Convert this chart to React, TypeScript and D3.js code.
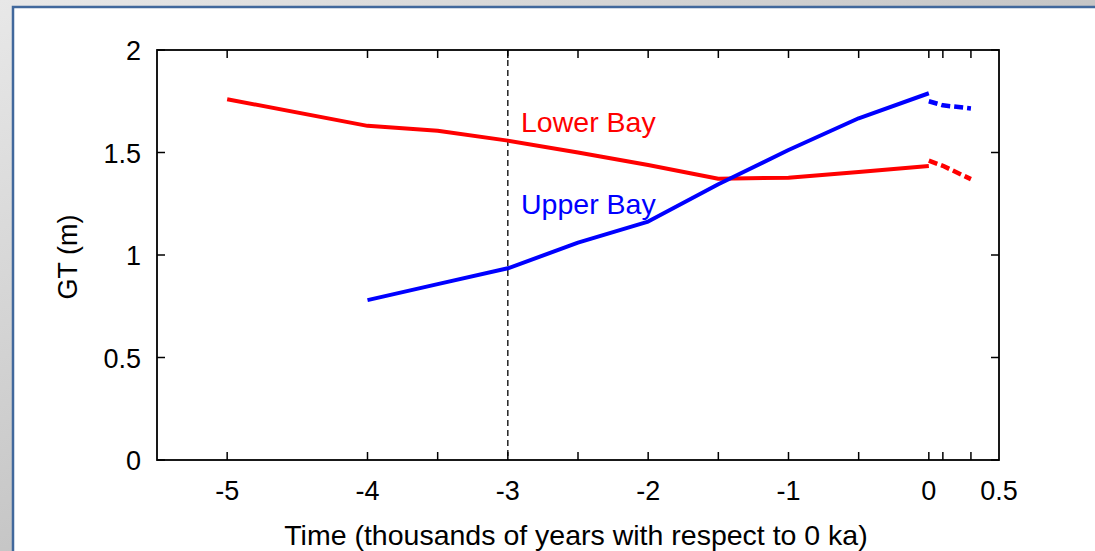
import * as d3 from 'd3';
import { useEffect, useRef } from 'react';

// thousands of years relative to 0 ka
const lowerX = [-5, -4, -3.5, -3, -2.5, -2, -1.5, -1, -0.5, 0];
const lowerGT = [1.76, 1.63, 1.606, 1.558, 1.5, 1.439, 1.372, 1.377, 1.405, 1.434];
const lowerFutX = [0, 0.1, 0.3];
const lowerFutGT = [1.46, 1.435, 1.37];

const upperX = [-4, -3.5, -3, -2.5, -2, -1.5, -1, -0.5, 0];
const upperGT = [0.78, 0.858, 0.935, 1.06, 1.163, 1.345, 1.512, 1.667, 1.789];
const upperFutX = [0, 0.1, 0.3];
const upperFutGT = [1.75, 1.73, 1.715];

const xTicks = [-5, -4, -3.5, -3, -2.5, -2, -1.5, -1, -0.5, 0, 0.1, 0.3];
const xLabels = [-5, -4, -3, -2, -1, 0, 0.5];
const yTicks = [0, 0.5, 1, 1.5, 2];
const markerYear = -3;

function App() {
  const ref = useRef<SVGSVGElement>(null);

  useEffect(() => {
    const W = 1095, H = 551;
    const left = 157, right = 999, top = 50, bottom = 460;
    const font = '"Liberation Sans", Arial, sans-serif';

    const svg = d3.select(ref.current);
    svg.selectAll('*').remove();

    // slide-style frame
    const defs = svg.append('defs');
    const grad = defs.append('linearGradient')
        .attr('id', 'bg')
        .attr('x1', 0).attr('y1', 0).attr('x2', 1).attr('y2', 1);
    grad.append('stop').attr('offset', 0).attr('stop-color', '#e8e8e8');
    grad.append('stop').attr('offset', 1).attr('stop-color', '#a4a4a4');

    svg.append('rect').attr('width', W).attr('height', H).attr('fill', 'url(#bg)');
    svg.append('rect')
        .attr('x', 13).attr('y', 7)
        .attr('width', W + 20).attr('height', H + 20)
        .attr('fill', '#fff')
        .attr('stroke', '#41689c')
        .attr('stroke-width', 2.5);

    const x = d3.scaleLinear().domain([-5.5, 0.5]).range([left, right]);
    const y = d3.scaleLinear().domain([0, 2]).range([bottom, top]);

    const g = svg.append('g');

    // ticks on all four sides, pointing inward
    const tickLen = 8;
    xTicks.forEach(t => {
      g.append('line')
          .attr('x1', x(t)).attr('x2', x(t))
          .attr('y1', bottom).attr('y2', bottom - tickLen)
          .attr('stroke', '#000').attr('stroke-width', 1.5);
      g.append('line')
          .attr('x1', x(t)).attr('x2', x(t))
          .attr('y1', top).attr('y2', top + tickLen)
          .attr('stroke', '#000').attr('stroke-width', 1.5);
    });
    yTicks.forEach(t => {
      g.append('line')
          .attr('x1', left).attr('x2', left + tickLen)
          .attr('y1', y(t)).attr('y2', y(t))
          .attr('stroke', '#000').attr('stroke-width', 1.5);
      g.append('line')
          .attr('x1', right).attr('x2', right - tickLen)
          .attr('y1', y(t)).attr('y2', y(t))
          .attr('stroke', '#000').attr('stroke-width', 1.5);
    });

    g.selectAll('.xl')
        .data(xLabels)
        .join('text')
        .attr('x', d => x(d))
        .attr('y', 500)
        .attr('text-anchor', 'middle')
        .style('font-family', font)
        .style('font-size', '27px')
        .text(d => String(d));

    g.selectAll('.yl')
        .data(yTicks)
        .join('text')
        .attr('x', 141)
        .attr('y', d => y(d) + 10)
        .attr('text-anchor', 'end')
        .style('font-family', font)
        .style('font-size', '27px')
        .text(d => String(d));

    // vertical marker
    g.append('line')
        .attr('x1', x(markerYear)).attr('x2', x(markerYear))
        .attr('y1', top).attr('y2', bottom)
        .attr('stroke', '#000')
        .attr('stroke-width', 1.3)
        .attr('stroke-dasharray', '6,4');

    const line = d3.line<[number, number]>()
        .x(d => x(d[0]))
        .y(d => y(d[1]));

    const draw = (xs: number[], ys: number[], color: string, dashed: boolean) => {
      g.append('path')
          .attr('d', line(xs.map((v, i) => [v, ys[i]] as [number, number])))
          .attr('fill', 'none')
          .attr('stroke', color)
          .attr('stroke-width', dashed ? 4.5 : 4)
          .attr('stroke-linejoin', 'round')
          .attr('stroke-dasharray', dashed ? '9,4' : null);
    };

    draw(lowerX, lowerGT, '#ff0000', false);
    draw(lowerFutX, lowerFutGT, '#ff0000', true);
    draw(upperX, upperGT, '#0000ff', false);
    draw(upperFutX, upperFutGT, '#0000ff', true);

    g.append('text')
        .attr('x', 521).attr('y', 132)
        .attr('fill', '#ff0000')
        .style('font-family', font)
        .style('font-size', '28.5px')
        .text('Lower Bay');
    g.append('text')
        .attr('x', 521).attr('y', 214)
        .attr('fill', '#0000ff')
        .style('font-family', font)
        .style('font-size', '28.5px')
        .text('Upper Bay');

    // border of the plot box
    g.append('rect')
        .attr('x', left).attr('y', top)
        .attr('width', right - left).attr('height', bottom - top)
        .attr('fill', 'none')
        .attr('stroke', '#000')
        .attr('stroke-width', 1.8);

    g.append('text')
        .attr('x', (left + right) / 2 - 2).attr('y', 545)
        .attr('text-anchor', 'middle')
        .style('font-family', font)
        .style('font-size', '28.5px')
        .text('Time (thousands of years with respect to 0 ka)');

    g.append('text')
        .attr('transform', `translate(77, 257) rotate(-90)`)
        .attr('text-anchor', 'middle')
        .style('font-family', font)
        .style('font-size', '27px')
        .text('GT (m)');
  }, []);

  return (
    <svg ref={ref} width={1095} height={551}
         style={{ position: 'absolute', left: 0, top: 0, display: 'block' }} />
  );
}

export default App;
